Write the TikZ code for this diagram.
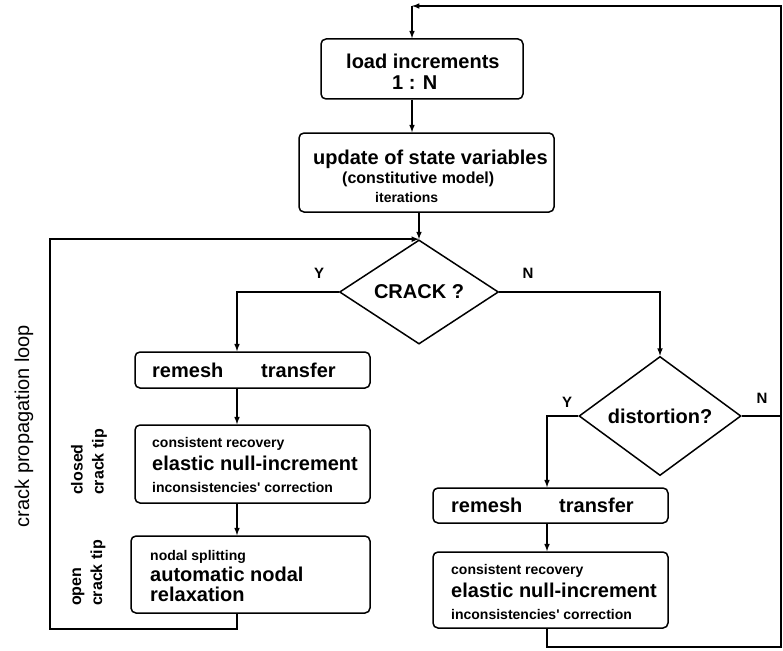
\documentclass[tikz,border=0pt]{standalone}
\usepackage{fontspec}
\setmainfont{Liberation Sans}
\usetikzlibrary{arrows}
\usetikzlibrary{shapes.geometric}

\newcommand{\fbig}{\fontsize{20}{24}\selectfont\bfseries}
\newcommand{\fmid}{\fontsize{16}{21}\selectfont\bfseries}
\newcommand{\fsmall}{\fontsize{14}{17}\selectfont\bfseries}

\tikzset{
  box/.style={draw, rounded corners=5pt, line width=1.5pt, inner sep=0pt},
  decision/.style={draw, diamond, line width=1.5pt, inner sep=0pt, font=\fbig},
  txt/.style={anchor=base west, inner sep=0pt},
  yn/.style={font=\fontsize{15}{18}\selectfont\bfseries, inner sep=0pt},
  flow/.style={-latex, line width=1.5pt},
}

\begin{document}
\begin{tikzpicture}[x=1pt, y=-1pt]
\useasboundingbox (0,0) rectangle (783,650);

% boxes and decisions
\node[box, minimum width=202pt, minimum height=60pt] (load) at (422,69) {};
\node[box, minimum width=255pt, minimum height=79pt] (update) at (426.5,172.5) {};
\node[decision, minimum width=159pt, minimum height=101pt] (crack) at (419,292) {CRACK ?};
\node[box, minimum width=235pt, minimum height=36pt] (remeshA) at (252.5,370) {};
\node[box, minimum width=235pt, minimum height=78pt] (closedA) at (252.5,464) {};
\node[box, minimum width=239pt, minimum height=77pt] (openA) at (250.5,574.5) {};
\node[decision, minimum width=162pt, minimum height=87pt] (distort) at (660,416) {distortion?};
\node[box, minimum width=235pt, minimum height=35pt] (remeshB) at (550.5,505.5) {};
\node[box, minimum width=235pt, minimum height=76pt] (closedB) at (550.5,590) {};

% box texts
\node[txt, font=\fbig] (tload) at (346,69) {load increments};
\node[txt, font=\fbig] (tloadN) at (392,89) {1 : N};
\node[txt, font=\fbig] (tupd) at (313,164) {update of state variables};
\node[txt, font=\fmid] (tupdm) at (342,183) {(constitutive model)};
\node[txt, font=\fsmall] (tupdi) at (375,202) {iterations};

\node[txt, font=\fbig] (tremA) at (152,377) {remesh};
\node[txt, font=\fbig] (ttrA) at (261,377) {transfer};
\node[txt, font=\fsmall] (tconA) at (152,447) {consistent recovery};
\node[txt, font=\fbig] (telaA) at (152,470) {elastic null-increment};
\node[txt, font=\fsmall] (tincA) at (152,492) {inconsistencies\textquotesingle{} correction};
\node[txt, font=\fsmall] (tnod) at (150,560) {nodal splitting};
\node[txt, font=\fbig] (taut) at (150,581) {automatic nodal};
\node[txt, font=\fbig] (trel) at (150,601) {relaxation};

\node[txt, font=\fbig] (tremB) at (451,512) {remesh};
\node[txt, font=\fbig] (ttrB) at (559,512) {transfer};
\node[txt, font=\fsmall] (tconB) at (451,574) {consistent recovery};
\node[txt, font=\fbig] (telaB) at (451,597) {elastic null-increment};
\node[txt, font=\fsmall] (tincB) at (451,619) {inconsistencies\textquotesingle{} correction};

% side labels
\node[rotate=90, align=left, font=\fmid] (lclosed) at (89,462) {closed\\crack tip};
\node[rotate=90, align=left, font=\fmid] (lopen) at (89,573) {open\\crack tip};
\node[rotate=90, font=\fontsize{20}{24}\selectfont] (lloop) at (24,426) {crack propagation loop};

% Y / N
\node[yn] (y1) at (319,273) {Y};
\node[yn] (n1) at (528,273) {N};
\node[yn] (y2) at (567,402) {Y};
\node[yn] (n2) at (762,398) {N};

% connectors
\coordinate (topR) at (781,6);
\coordinate (topL) at (412,6);
\coordinate (botR) at (781,647);
\coordinate (loopL) at (50,629);
\coordinate (colL) at (237,292);
\coordinate (colR) at (547,416);

\draw[flow] (topL) -- (topL |- load.north);
\draw[flow] (topL |- load.south) -- (topL |- update.north);
\draw[flow] (crack.north |- update.south) -- (crack.north);

\draw[flow] (crack.west) -- (colL) -- (colL |- remeshA.north);
\draw[flow] (colL |- remeshA.south) -- (colL |- closedA.north);
\draw[flow] (colL |- closedA.south) -- (colL |- openA.north);
\draw[flow] (colL |- openA.south) -- (colL |- loopL) -- (loopL) -- (loopL |- crack.north) -- (crack.north);

\draw[flow] (crack.east) -| (distort.north);
\draw[flow] (distort.west) -- (colR) -- (colR |- remeshB.north);
\draw[flow] (colR |- remeshB.south) -- (colR |- closedB.north);
\draw[flow] (colR |- closedB.south) -- (colR |- botR) -- (botR) -- (topR) -- (topL);
\draw[line width=1.5pt] (distort.east) -- (distort.east -| topR);
\end{tikzpicture}
\end{document}
